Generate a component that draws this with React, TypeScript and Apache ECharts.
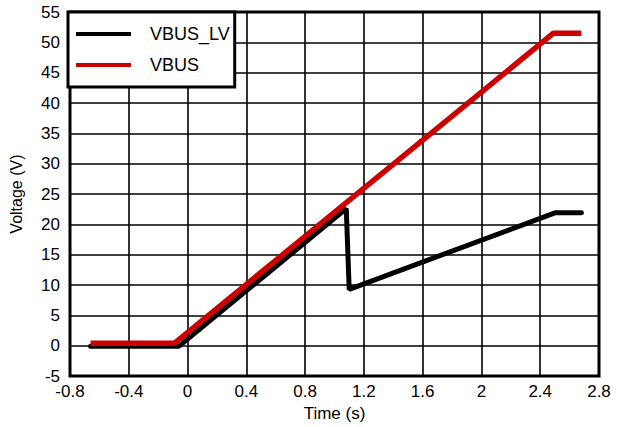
import React, { useEffect, useRef } from "react";
import * as echarts from "echarts";

const xTicksMin = -0.8;
const xTicksMax = 2.8;
const xStep = 0.4;
const yMin = -5;
const yMax = 55;
const yStep = 5;

// VBUS_LV (black)
const lvTime = [-0.66, -0.06, 1.08, 1.1, 2.5, 2.68];
const lvVolt = [-0.1, -0.1, 22.6, 9.3, 21.9, 21.9];

// VBUS (red)
const vbusTime = [-0.66, -0.09, 2.49, 2.68];
const vbusVolt = [0.4, 0.4, 51.5, 51.5];

const seriesNames = ["VBUS_LV", "VBUS"];

export default function App() {
  const ref = useRef<HTMLDivElement>(null);
  useEffect(() => {
    if (!ref.current) return;
    const chart = echarts.init(ref.current, undefined, { renderer: "svg" });
    const font = "Liberation Sans, Arial, sans-serif";
    chart.setOption({
      animation: false,
      backgroundColor: "#fff",
      grid: {
        left: 68,
        right: 25,
        top: 12,
        bottom: 47,
        show: true,
        borderColor: "#000",
        borderWidth: 3,
        backgroundColor: "transparent",
      },
      legend: {
        data: seriesNames,
        orient: "vertical",
        left: 68,
        top: 12,
        padding: [13, 5, 13, 8],
        itemGap: 13,
        itemWidth: 55,
        itemHeight: 4,
        icon: "rect",
        backgroundColor: "#fff",
        borderColor: "#000",
        borderWidth: 3,
        borderRadius: 0,
        textStyle: {
          fontFamily: font,
          fontSize: 18,
          color: "#000",
          padding: [0, 0, 0, 14],
        },
      },
      xAxis: {
        type: "value",
        min: xTicksMin,
        max: xTicksMax,
        interval: xStep,
        name: "Time (s)",
        nameLocation: "middle",
        nameGap: 23,
        nameTextStyle: { fontFamily: font, fontSize: 17, color: "#000" },
        axisLine: { show: false },
        axisTick: { show: false },
        axisLabel: {
          fontFamily: font,
          fontSize: 17,
          color: "#000",
          margin: 7,
          formatter: (v: number) => String(Math.round(v * 10) / 10),
        },
        splitLine: { show: true, lineStyle: { color: "#000", width: 1.6 } },
      },
      yAxis: {
        type: "value",
        min: yMin,
        max: yMax,
        interval: yStep,
        name: "Voltage (V)",
        nameLocation: "middle",
        nameGap: 46,
        nameTextStyle: { fontFamily: font, fontSize: 16, color: "#000" },
        axisLine: { show: false },
        axisTick: { show: false },
        axisLabel: {
          fontFamily: font,
          fontSize: 17,
          color: "#000",
          margin: 10,
        },
        splitLine: { show: true, lineStyle: { color: "#000", width: 1.6 } },
      },
      series: [
        {
          name: seriesNames[0],
          type: "line",
          data: lvTime.map((t, i) => [t, lvVolt[i]]),
          showSymbol: false,
          symbol: "none",
          lineStyle: { color: "#000", width: 5, cap: "round" },
          itemStyle: { color: "#000" },
          z: 3,
        },
        {
          name: seriesNames[1],
          type: "line",
          data: vbusTime.map((t, i) => [t, vbusVolt[i]]),
          showSymbol: false,
          symbol: "none",
          lineStyle: { color: "#cc0000", width: 5.5 },
          itemStyle: { color: "#cc0000" },
          z: 4,
        },
      ],
    });
    return () => chart.dispose();
  }, []);
  return (
    <div
      ref={ref}
      style={{ position: "fixed", left: 0, top: 0, width: 624, height: 427 }}
    />
  );
}
